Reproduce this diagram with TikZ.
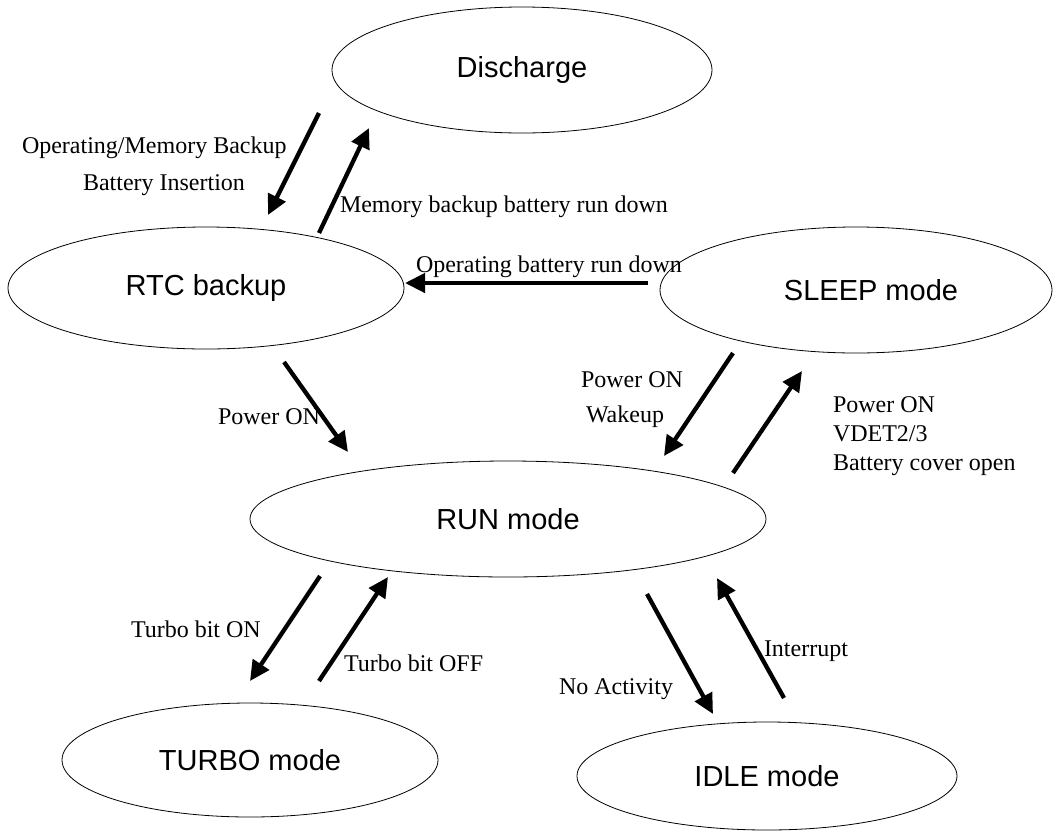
\documentclass[tikz,border=0pt]{standalone}
\usepackage{fontspec}
\setmainfont{Liberation Serif}
\newfontfamily\arialf{Liberation Sans}
\usetikzlibrary{shapes.geometric,arrows.meta}
\begin{document}
\begin{tikzpicture}[x=1pt,y=-1pt,
  state/.style={draw, ellipse, line width=0.8pt, inner sep=0pt, outer sep=0pt,
    font=\arialf\fontsize{29}{34}\selectfont},
  trans/.style={line width=4.3pt, -{Triangle[length=20pt,width=19pt]}},
  lbl/.style={inner sep=0pt, outer sep=0pt, font=\fontsize{24}{28}\selectfont}]
\useasboundingbox (0,0) rectangle (1053,831);
\fill[white] (0,0) rectangle (1053,831);
% states
\node[state, minimum width=380pt, minimum height=126pt] (dis) at (522,70) {Discharge};
\node[state, minimum width=396pt, minimum height=122pt] (rtc) at (206,288) {RTC backup};
\node[state, minimum width=392pt, minimum height=126pt] (sleep) at (856,290) {\hspace*{30pt}SLEEP mode};
\node[state, minimum width=516pt, minimum height=116pt] (run) at (508,519) {RUN mode};
\node[state, minimum width=376pt, minimum height=114pt] (turbo) at (250,760) {TURBO mode};
\node[state, minimum width=380pt, minimum height=108pt] (idle) at (767,776) {IDLE mode};
% arrow end points
\coordinate (a1s) at (319,113); \coordinate (a1e) at (268,215);
\coordinate (a2s) at (319,233); \coordinate (a2e) at (369,128);
\coordinate (a3s) at (648,283); \coordinate (a3e) at (405,283);
\coordinate (a4s) at (284,362); \coordinate (a4e) at (348,452);
\coordinate (a5s) at (733,353); \coordinate (a5e) at (664,456);
\coordinate (a6s) at (733,473); \coordinate (a6e) at (802,371);
\coordinate (a7s) at (320,576); \coordinate (a7e) at (250,681);
\coordinate (a8s) at (319,681); \coordinate (a8e) at (388,577);
\coordinate (a9s) at (647,594); \coordinate (a9e) at (713,714);
\coordinate (a10s) at (784,698); \coordinate (a10e) at (717,578);
% transitions
\draw[trans] (a1s) -- (a1e);
\draw[trans] (a2s) -- (a2e);
\draw[trans] (a3s) -- (a3e);
\draw[trans] (a4s) -- (a4e);
\draw[trans] (a5s) -- (a5e);
\draw[trans] (a6s) -- (a6e);
\draw[trans] (a7s) -- (a7e);
\draw[trans] (a8s) -- (a8e);
\draw[trans] (a9s) -- (a9e);
\draw[trans] (a10s) -- (a10e);
% labels
\node[lbl, anchor=base west] (l1) at (22,153) {Operating/Memory Backup};
\node[lbl, anchor=base west] (l2) at (83,190) {Battery Insertion};
\node[lbl, anchor=base west] (l3) at (340,212) {Memory backup battery run down};
\node[lbl, anchor=base west] (l4) at (416,272) {Operating battery run down};
\node[lbl, anchor=base west] (l5) at (218,424) {Power ON};
\node[lbl, anchor=base east] (l6) at (683,387) {Power ON};
\node[lbl, anchor=base west] (l7) at (586,422) {Wakeup};
\node[lbl, anchor=base west] (l8) at (833,412) {Power ON};
\node[lbl, anchor=base west] (l9) at (833,441) {VDET2/3};
\node[lbl, anchor=base west] (l10) at (833,470) {Battery cover open};
\node[lbl, anchor=base west] (l11) at (131,637) {Turbo bit ON};
\node[lbl, anchor=base west] (l12) at (344,671) {Turbo bit OFF};
\node[lbl, anchor=base east] (l13) at (673,694) {No Activity};
\node[lbl, anchor=base west] (l14) at (764,656) {Interrupt};
\end{tikzpicture}
\end{document}
